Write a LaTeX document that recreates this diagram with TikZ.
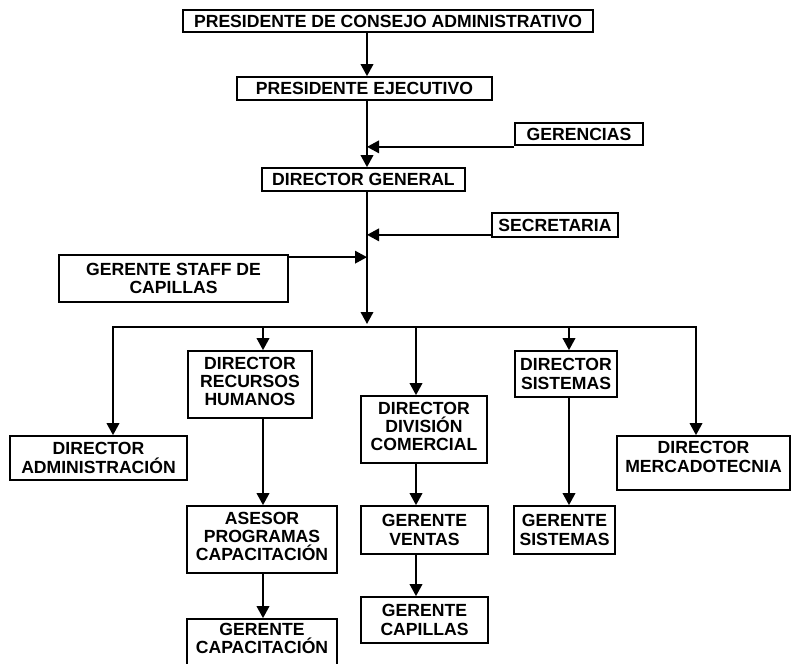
\documentclass[tikz,border=0pt]{standalone}
\usepackage{fontspec}
\setmainfont{Liberation Sans}
\usetikzlibrary{arrows.meta}

\tikzset{
  orgfont/.style={font=\bfseries\fontsize{17.6}{18.3}\selectfont},
  box/.style={draw, line width=1.7pt, inner sep=0pt, align=center, orgfont},
  lbl/.style={inner sep=0pt, align=center, orgfont},
  link/.style={line width=1.9pt, line join=miter, -{Triangle[length=12pt,width=12.5pt]}},
}

\begin{document}
\begin{tikzpicture}[x=1pt, y=-1pt]
\useasboundingbox (0,0) rectangle (791,663);
\clip (0,0) rectangle (791,663);

% reporting line and bus positions
\coordinate (spine) at (367,0);
\coordinate (busL) at (113,327);
\coordinate (busR) at (696,327);
\coordinate (dropRH) at (263,327);
\coordinate (dropDC) at (416,327);
\coordinate (dropSI) at (569,327);

% top of the hierarchy
\node[box, minimum width=410pt, minimum height=22pt] (pca) at (388,21) {PRESIDENTE DE CONSEJO ADMINISTRATIVO};
\node[box, minimum width=255pt, minimum height=23pt] (pe) at (364.5,88.5) {PRESIDENTE EJECUTIVO};
\node[box, minimum width=128pt, minimum height=22pt] (ger) at (579,134) {GERENCIAS};
\node[box, minimum width=203pt, minimum height=23pt] (dg) at (363.5,179.5) {DIRECTOR GENERAL};
\node[box, minimum width=126pt, minimum height=24pt] (sec) at (555,225) {SECRETARIA};
\node[box, minimum width=229pt, minimum height=47pt] (staff) at (173.5,278.5) {GERENTE STAFF DE\\CAPILLAS};

% directors
\node[box, minimum width=177pt, minimum height=44pt] (dadm) at (98.5,458) {DIRECTOR\\ADMINISTRACIÓN};
\node[box, minimum width=124pt, minimum height=67pt] (drh) at (250,384.5) {};
\node[lbl] at ([yshift=3pt]drh.center) {DIRECTOR\\RECURSOS\\HUMANOS};
\node[box, minimum width=126pt, minimum height=67pt] (ddc) at (424,429.5) {};
\node[lbl] at ([yshift=3pt]ddc.center) {DIRECTOR\\DIVISIÓN\\COMERCIAL};
\node[box, minimum width=102pt, minimum height=46pt] (dsis) at (566,374) {DIRECTOR\\SISTEMAS};
\node[box, minimum width=173pt, minimum height=54pt] (dmkt) at (703.5,463) {};
\node[lbl] at ([yshift=6pt]dmkt.center) {DIRECTOR\\MERCADOTECNIA};

% managers
\node[box, minimum width=150pt, minimum height=67pt] (ases) at (262,539.5) {};
\node[lbl] at ([yshift=3pt]ases.center) {ASESOR\\PROGRAMAS\\CAPACITACIÓN};
\node[box, minimum width=150pt, minimum height=53pt] (gcap) at (262,645.5) {};
\node[lbl] at ([yshift=7pt]gcap.center) {GERENTE\\CAPACITACIÓN};
\node[box, minimum width=127pt, minimum height=48pt] (gven) at (424.5,530) {GERENTE\\VENTAS};
\node[box, minimum width=127pt, minimum height=46pt] (gcapi) at (424.5,620) {GERENTE\\CAPILLAS};
\node[box, minimum width=101pt, minimum height=48pt] (gsis) at (564.5,530) {GERENTE\\SISTEMAS};

% main reporting line
\draw[link] (pca.south -| spine) -- (pe.north -| spine);
\draw[link] (pe.south -| spine) -- (dg.north -| spine);
\draw[link] (dg.south -| spine) -- ([yshift=3pt]busL -| spine);

% staff units feeding the line
\draw[link] ([yshift=-1pt]ger.south west) -- ([yshift=-1pt]ger.south west -| spine);
\draw[link] ([yshift=3pt]sec.south west) -- ([yshift=3pt]sec.south west -| spine);
\draw[link] ([yshift=-3pt]staff.north east) -- ([yshift=-3pt]staff.north east -| spine);

% distribution bus to the directors
\draw[link] (busR) -- (busL) -- (busL |- dadm.north);
\draw[link] (busL) -- (busR) -- (busR |- dmkt.north);
\draw[link] (dropRH) -- (dropRH |- drh.north);
\draw[link] (dropDC) -- (dropDC |- ddc.north);
\draw[link] (dropSI) -- (dropSI |- dsis.north);

% lower levels
\draw[link] (dropRH |- drh.south) -- (dropRH |- ases.north);
\draw[link] (dropRH |- ases.south) -- (dropRH |- gcap.north);
\draw[link] (dropDC |- ddc.south) -- (dropDC |- gven.north);
\draw[link] (dropDC |- gven.south) -- (dropDC |- gcapi.north);
\draw[link] (dropSI |- dsis.south) -- (dropSI |- gsis.north);
\end{tikzpicture}
\end{document}
